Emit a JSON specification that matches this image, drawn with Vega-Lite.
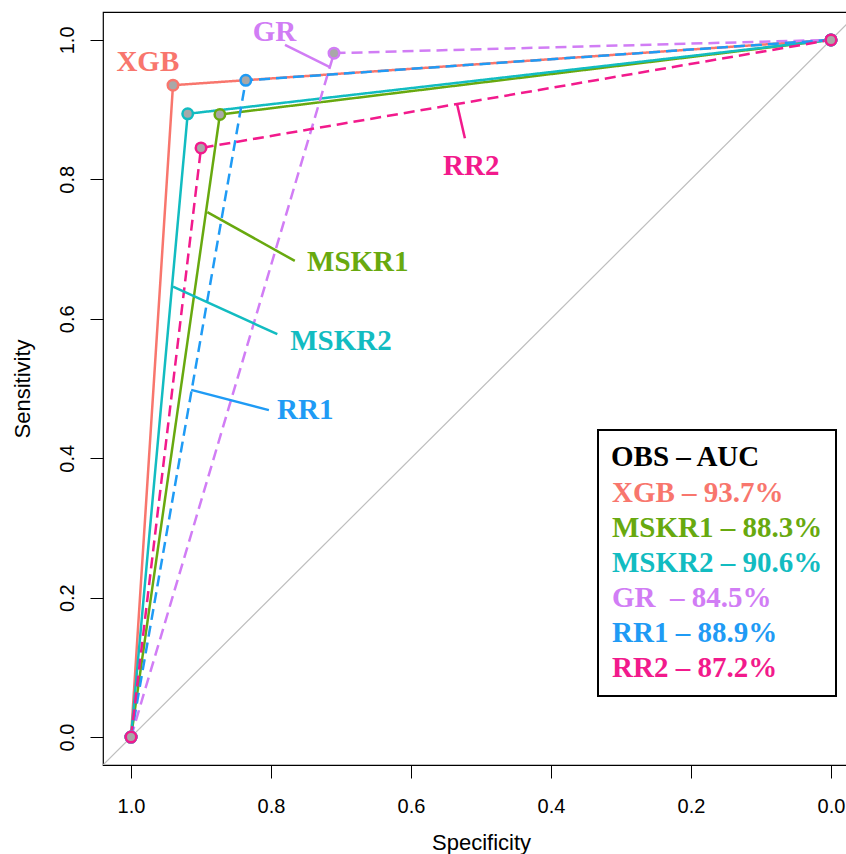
{
  "$schema": "https://vega.github.io/schema/vega-lite/v6.json",
  "width": 756,
  "height": 753,
  "autosize": "none",
  "padding": {"left": 103, "top": 12, "right": 0, "bottom": 89},
  "background": "white",
  "config": {
    "view": {"stroke": "black", "strokeWidth": 1.2},
    "axis": {
      "domain": false, "grid": false, "ticks": true, "tickColor": "black", "tickWidth": 1, "tickSize": 13,
      "labelFont": "Liberation Sans", "labelFontSize": 20, "labelColor": "black",
      "titleFont": "Liberation Sans", "titleFontSize": 22, "titleFontWeight": "normal", "titleColor": "black",
      "labelFlush": false, "labelOverlap": false
    },
    "axisX": {"labelPadding": 18, "titlePadding": 16},
    "axisY": {"labelAngle": 270, "labelAlign": "center", "labelBaseline": "alphabetic", "labelPadding": 17, "titlePadding": 23}
  },
  "datasets": {
    "roc": [
      {"model": "XGB", "entry": "XGB – 93.7%", "step": 0, "spec": 1, "sens": 0},
      {"model": "XGB", "entry": "XGB – 93.7%", "step": 1, "spec": 0.940, "sens": 0.935},
      {"model": "XGB", "entry": "XGB – 93.7%", "step": 2, "spec": 0, "sens": 1},
      {"model": "MSKR1", "entry": "MSKR1 – 88.3%", "step": 0, "spec": 1, "sens": 0},
      {"model": "MSKR1", "entry": "MSKR1 – 88.3%", "step": 1, "spec": 0.873, "sens": 0.893},
      {"model": "MSKR1", "entry": "MSKR1 – 88.3%", "step": 2, "spec": 0, "sens": 1},
      {"model": "MSKR2", "entry": "MSKR2 – 90.6%", "step": 0, "spec": 1, "sens": 0},
      {"model": "MSKR2", "entry": "MSKR2 – 90.6%", "step": 1, "spec": 0.919, "sens": 0.894},
      {"model": "MSKR2", "entry": "MSKR2 – 90.6%", "step": 2, "spec": 0, "sens": 1},
      {"model": "GR", "entry": "GR\u00a0 – 84.5%", "step": 0, "spec": 1, "sens": 0},
      {"model": "GR", "entry": "GR\u00a0 – 84.5%", "step": 1, "spec": 0.710, "sens": 0.981},
      {"model": "GR", "entry": "GR\u00a0 – 84.5%", "step": 2, "spec": 0, "sens": 1},
      {"model": "RR1", "entry": "RR1 – 88.9%", "step": 0, "spec": 1, "sens": 0},
      {"model": "RR1", "entry": "RR1 – 88.9%", "step": 1, "spec": 0.836, "sens": 0.942},
      {"model": "RR1", "entry": "RR1 – 88.9%", "step": 2, "spec": 0, "sens": 1},
      {"model": "RR2", "entry": "RR2 – 87.2%", "step": 0, "spec": 1, "sens": 0},
      {"model": "RR2", "entry": "RR2 – 87.2%", "step": 1, "spec": 0.900, "sens": 0.845},
      {"model": "RR2", "entry": "RR2 – 87.2%", "step": 2, "spec": 0, "sens": 1}
    ],
    "diag": [{"spec": 1.04, "sens": -0.04, "spec2": -0.04, "sens2": 1.04}],
    "leaders": [
      {"model": "GR", "entry": "GR\u00a0 – 84.5%", "spec": 0.780, "sens": 0.993, "spec2": 0.716, "sens2": 0.961},
      {"model": "RR2", "entry": "RR2 – 87.2%", "spec": 0.534, "sens": 0.907, "spec2": 0.523, "sens2": 0.859},
      {"model": "MSKR1", "entry": "MSKR1 – 88.3%", "spec": 0.891, "sens": 0.753, "spec2": 0.766, "sens2": 0.683},
      {"model": "MSKR2", "entry": "MSKR2 – 90.6%", "spec": 0.940, "sens": 0.646, "spec2": 0.791, "sens2": 0.578},
      {"model": "RR1", "entry": "RR1 – 88.9%", "spec": 0.914, "sens": 0.498, "spec2": 0.803, "sens2": 0.469}
    ],
    "labels": [
      {"model": "XGB", "entry": "XGB – 93.7%", "spec": 0.976, "sens": 0.968},
      {"model": "GR", "entry": "GR\u00a0 – 84.5%", "spec": 0.795, "sens": 1.011},
      {"model": "RR2", "entry": "RR2 – 87.2%", "spec": 0.514, "sens": 0.819},
      {"model": "MSKR1", "entry": "MSKR1 – 88.3%", "spec": 0.676, "sens": 0.6815},
      {"model": "MSKR2", "entry": "MSKR2 – 90.6%", "spec": 0.700, "sens": 0.568},
      {"model": "RR1", "entry": "RR1 – 88.9%", "spec": 0.751, "sens": 0.469}
    ]
  },
  "encoding": {
    "x": {"field": "spec", "type": "quantitative",
      "scale": {"domain": [-0.04, 1.04], "reverse": true, "nice": false, "zero": false},
      "axis": {"title": "Specificity", "values": [0, 0.2, 0.4, 0.6, 0.8, 1], "format": ".1f"}},
    "y": {"field": "sens", "type": "quantitative",
      "scale": {"domain": [-0.04, 1.04], "nice": false, "zero": false},
      "axis": {"title": "Sensitivity", "values": [0, 0.2, 0.4, 0.6, 0.8, 1], "format": ".1f"}}
  },
  "layer": [
    {
      "data": {"name": "diag"},
      "mark": {"type": "rule", "color": "#BEBEBE", "strokeWidth": 1.2, "clip": true},
      "encoding": {"x2": {"field": "spec2"}, "y2": {"field": "sens2"}}
    },
    {
      "data": {"name": "roc"},
      "mark": {"type": "line", "strokeWidth": 2.5},
      "encoding": {
        "color": {"field": "entry", "type": "nominal",
          "scale": {"domain": ["XGB – 93.7%", "MSKR1 – 88.3%", "MSKR2 – 90.6%", "GR\u00a0 – 84.5%", "RR1 – 88.9%", "RR2 – 87.2%"],
                    "range": ["#F8766D", "#68A90F", "#12BCC1", "#D17DF5", "#1F9BF5", "#F21A8C"]},
          "legend": {"orient": "none", "legendX": 495, "legendY": 418, "title": "OBS – AUC",
            "titleFont": "Liberation Serif", "titleFontSize": 29, "titleFontWeight": "bold", "titleColor": "black", "titlePadding": 6,
            "labelFont": "Liberation Serif", "labelFontSize": 29, "labelFontWeight": "bold",
            "labelColor": {"expr": "scale('color', datum.value)"},
            "labelOffset": -28, "labelLimit": 400, "symbolSize": 0, "symbolOpacity": 0, "symbolStrokeWidth": 0,
            "rowPadding": 5, "padding": 13, "strokeColor": "black", "fillColor": "white",
            "encode": {"legend": {"update": {"strokeWidth": {"value": 2}}}}}},
        "strokeDash": {"field": "entry", "type": "nominal",
          "scale": {"domain": ["XGB – 93.7%", "MSKR1 – 88.3%", "MSKR2 – 90.6%", "GR\u00a0 – 84.5%", "RR1 – 88.9%", "RR2 – 87.2%"],
                    "range": [[1, 0], [1, 0], [1, 0], [11, 6], [11, 6], [11, 6]]},
          "legend": null},
        "order": {"field": "step", "type": "quantitative"}
      }
    },
    {
      "data": {"name": "leaders"},
      "mark": {"type": "rule", "strokeWidth": 2.5},
      "encoding": {"x2": {"field": "spec2"}, "y2": {"field": "sens2"},
        "color": {"field": "entry", "type": "nominal"}}
    },
    {
      "data": {"name": "roc"},
      "mark": {"type": "circle", "fill": "#A8A8A8", "opacity": 1, "fillOpacity": 1, "size": 110, "strokeWidth": 2.5},
      "encoding": {
        "stroke": {"field": "entry", "type": "nominal",
          "scale": {"domain": ["XGB – 93.7%", "MSKR1 – 88.3%", "MSKR2 – 90.6%", "GR\u00a0 – 84.5%", "RR1 – 88.9%", "RR2 – 87.2%"],
                    "range": ["#F8766D", "#68A90F", "#12BCC1", "#D17DF5", "#1F9BF5", "#F21A8C"]},
          "legend": null}
      }
    },
    {
      "data": {"name": "labels"},
      "mark": {"type": "text", "font": "Liberation Serif", "fontSize": 29, "fontWeight": "bold", "align": "center", "baseline": "middle"},
      "encoding": {"text": {"field": "model"}, "color": {"field": "entry", "type": "nominal"}}
    }
  ]
}
